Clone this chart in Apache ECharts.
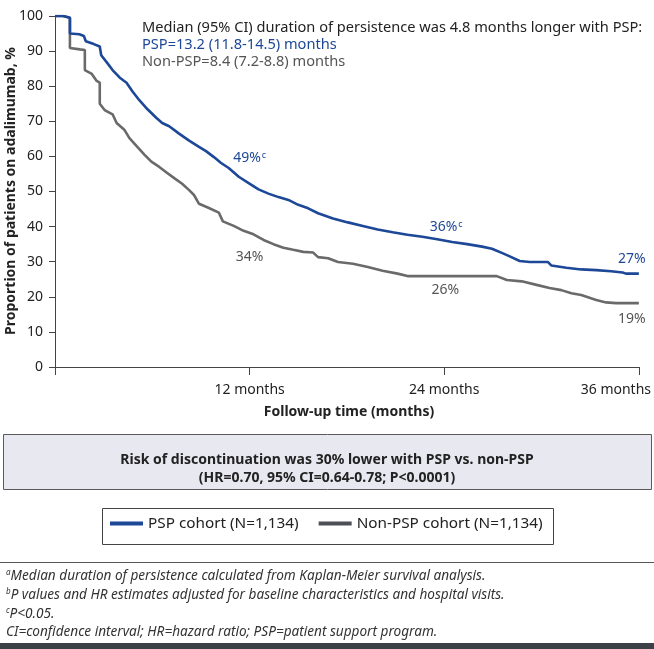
<!DOCTYPE html>
<html><head><meta charset="utf-8">
<script src="https://cdn.jsdelivr.net/npm/echarts@6/dist/echarts.min.js"></script>
<style>html,body{margin:0;padding:0;background:#fff}#c{width:654px;height:649px}</style>
</head><body><div id="c"></div>
<script>
// ---- data (Kaplan-Meier curves, months vs % on adalimumab) ----
const pspMonths = [0,0.5,0.55,0.92,0.92,1.5,1.78,1.9,2.39,2.76,2.85,3.24,3.55,3.98,4.41,4.78,5.2,5.69,6.24,6.61,7.04,7.65,8.27,8.88,9.31,9.8,10.22,10.71,11.33,11.94,12.55,13.16,13.78,14.39,15.0,15.61,16.22,17.14,18.06,18.98,19.9,20.82,21.73,22.65,23.57,24.49,25.41,26.33,26.94,27.55,28.04,28.65,29.27,30.4,30.61,31.53,32.45,33.37,34.29,35.0,35.2,36];
const pspValues = [100,100,99.5,99.5,95,94.8,94.3,92.8,92,91.3,88.8,86.5,84.6,82.5,81,78.5,76,73.5,71,69.5,68.6,66.5,64.5,62.7,61.5,59.8,58.2,56.7,54.2,52.4,50.6,49.4,48.4,47.6,46.2,45.2,43.8,42.3,41.2,40.2,39.2,38.4,37.7,37.1,36.4,35.6,35,34.3,33.7,32.5,31.5,30.2,29.9,29.9,28.9,28.3,27.8,27.6,27.3,26.9,26.6,26.6];
const nonPspMonths = [0,0.5,0.55,0.92,0.92,1.53,1.84,1.84,2.27,2.57,2.76,2.76,3.06,3.55,3.8,4.29,4.59,5.02,5.51,5.94,6.43,6.86,7.35,7.84,8.27,8.57,8.88,9.49,10.1,10.35,11.02,11.63,12.24,12.86,13.47,14.08,14.69,15.31,15.92,16.22,16.84,17.45,18.37,19.29,20.2,21.12,21.73,27.24,27.86,28.78,29.69,30.49,31.22,31.84,32.45,33.37,33.98,34.59,36];
const nonPspValues = [100,100,99.5,99.5,90.9,90.5,90.3,84.6,83.5,81.5,81,75,73.2,72,69.5,67.5,65.2,63,60.5,58.5,57,55.5,53.8,52.2,50.4,49,46.5,45.3,44,41.5,40.2,38.8,37.8,36.2,35,34,33.4,32.8,32.6,31.3,31,29.9,29.4,28.5,27.4,26.6,25.9,25.9,24.8,24.4,23.4,22.5,21.9,21,20.5,19.1,18.4,18.2,18.2];
const seriesNames = ['PSP cohort (N=1,134)', 'Non-PSP cohort (N=1,134)'];
const xTickLabels = {0: '', 12: '12 months', 24: '24 months', 36: '36 months'};
const pspLabelMonths = [12.0, 24.12, 35.57];
const pspLabelValues = [59.5, 39.9, 30.8];
const pspLabelTexts = ['{v|49%}{s|c}', '{v|36%}{s|c}', '{v|27%}'];
const nonPspLabelMonths = [12.0, 24.06, 35.57];
const nonPspLabelValues = [31.3, 21.9, 13.7];
const nonPspLabelTexts = ['{v|34%}', '{v|26%}', '{v|19%}'];

const BLUE = '#1d4797';
const GREY = '#6a6a6a';
const FONT = '"Noto Sans", sans-serif';

function pairs(xs, ys) { return xs.map((x, i) => [x, ys[i]]); }
function marks(xs, ys, ts, color) {
  return {
    symbol: 'circle', symbolSize: 0, silent: true, animation: false,
    label: {
      show: true, position: 'inside', formatter: p => p.data.txt,
      rich: {
        v: { fontFamily: FONT, fontSize: 14, color: color },
        s: { fontFamily: FONT, fontSize: 9, color: color, verticalAlign: 'top', padding: [0, 0, 6, 1] }
      }
    },
    data: xs.map((x, i) => ({ coord: [x, ys[i]], txt: ts[i] }))
  };
}
const supRich = { s: { fontSize: 8, fontStyle: 'italic', fontFamily: FONT, fill: '#333', verticalAlign: 'top', padding: [0, 0, 6, 0] } };
const FOOT = 'italic 13.6px ' + FONT;

const chart = echarts.init(document.getElementById('c'), null, { renderer: 'canvas' });
chart.setOption({
  animation: false,
  textStyle: { fontFamily: FONT },
  grid: { left: 55, right: 11, top: 16, bottom: 282, containLabel: false },
  xAxis: {
    type: 'value', min: 0, max: 36, interval: 12,
    axisLine: { show: true, lineStyle: { color: '#444', width: 1 } },
    axisTick: { show: true, length: 8, lineStyle: { color: '#444' } },
    splitLine: { show: false },
    axisLabel: {
      margin: 16, fontSize: 14, color: '#222', fontFamily: FONT,
      formatter: v => v === 36 ? '{r|' + xTickLabels[v] + '}' : (xTickLabels[v] || ''),
      rich: { r: { fontSize: 14, color: '#222', fontFamily: FONT, padding: [0, 46, 0, 0] } }
    }
  },
  yAxis: {
    type: 'value', min: 0, max: 100, interval: 10,
    axisLine: { show: true, lineStyle: { color: '#444', width: 1 } },
    axisTick: { show: true, length: 6, lineStyle: { color: '#444' } },
    splitLine: { show: false },
    axisLabel: { margin: 12, fontSize: 14, color: '#222', fontFamily: FONT }
  },
  legend: {
    show: true, left: 110, top: 516, itemGap: 20, itemWidth: 33, itemHeight: 4,
    icon: 'rect', padding: 0,
    textStyle: { fontSize: 15.3, color: '#222', fontFamily: FONT },
    data: seriesNames
  },
  series: [
    {
      name: seriesNames[0], type: 'line', showSymbol: false, symbol: 'none',
      lineStyle: { color: BLUE, width: 2.6 }, itemStyle: { color: BLUE },
      data: pairs(pspMonths, pspValues), z: 3,
      markPoint: marks(pspLabelMonths, pspLabelValues, pspLabelTexts, BLUE)
    },
    {
      name: seriesNames[1], type: 'line', showSymbol: false, symbol: 'none',
      lineStyle: { color: GREY, width: 2.6 }, itemStyle: { color: '#4c4f55' },
      data: pairs(nonPspMonths, nonPspValues), z: 2,
      markPoint: marks(nonPspLabelMonths, nonPspLabelValues, nonPspLabelTexts, '#555')
    }
  ],
  graphic: [
    { type: 'text', left: 142, top: 20, style: { text: 'Median (95% CI) duration of persistence was 4.8 months longer with PSP:', fill: '#222', font: '14.6px ' + FONT } },
    { type: 'text', left: 142, top: 37, style: { text: 'PSP=13.2 (11.8-14.5) months', fill: BLUE, font: '14.6px ' + FONT } },
    { type: 'text', left: 142, top: 54, style: { text: 'Non-PSP=8.4 (7.2-8.8) months', fill: '#555', font: '14.6px ' + FONT } },
    { type: 'text', x: 11, y: 191, rotation: Math.PI / 2, style: { text: 'Proportion of patients on adalimumab, %', fill: '#222', font: 'bold 14px ' + FONT, textAlign: 'center', textVerticalAlign: 'middle' } },
    { type: 'text', x: 349, y: 412, style: { text: 'Follow-up time (months)', fill: '#222', font: 'bold 14px ' + FONT, textAlign: 'center', textVerticalAlign: 'middle' } },
    { type: 'rect', shape: { x: 3.5, y: 434.5, width: 648, height: 55 }, style: { fill: '#e8e8f0', stroke: '#5a5a5a', lineWidth: 1 }, z: 0 },
    { type: 'text', x: 327, y: 460, style: { text: 'Risk of discontinuation was 30% lower with PSP vs. non-PSP', fill: '#222', font: 'bold 14px ' + FONT, textAlign: 'center', textVerticalAlign: 'middle' }, z: 1 },
    { type: 'text', x: 327, y: 478, style: { text: '(HR=0.70, 95% CI=0.64-0.78; P<0.0001)', fill: '#222', font: 'bold 14px ' + FONT, textAlign: 'center', textVerticalAlign: 'middle' }, z: 1 },
    { type: 'rect', shape: { x: 102.5, y: 508.5, width: 451, height: 36 }, style: { fill: 'none', stroke: '#444', lineWidth: 1 } },
    { type: 'line', shape: { x1: 0, y1: 562.5, x2: 654, y2: 562.5 }, style: { stroke: '#555', lineWidth: 1 } },
    { type: 'text', left: 6, top: 569, style: { text: '{s|a}Median duration of persistence calculated from Kaplan-Meier survival analysis.', fill: '#333', font: FOOT, rich: supRich } },
    { type: 'text', left: 6, top: 588, style: { text: '{s|b}P values and HR estimates adjusted for baseline characteristics and hospital visits.', fill: '#333', font: FOOT, rich: supRich } },
    { type: 'text', left: 6, top: 607, style: { text: '{s|c}P<0.05.', fill: '#333', font: FOOT, rich: supRich } },
    { type: 'text', left: 6, top: 625, style: { text: 'CI=confidence interval; HR=hazard ratio; PSP=patient support program.', fill: '#333', font: FOOT } },
    { type: 'rect', shape: { x: 0, y: 643, width: 654, height: 6 }, style: { fill: '#3c4047' } }
  ]
});
</script>
</body></html>
